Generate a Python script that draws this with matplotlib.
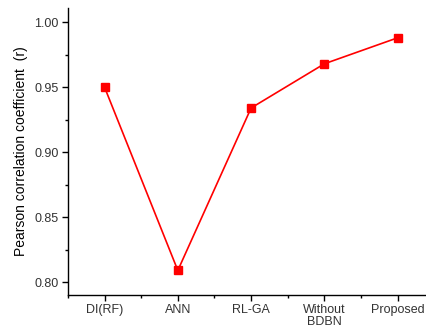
import matplotlib
matplotlib.use("Agg")
import matplotlib.pyplot as plt
from matplotlib.ticker import MultipleLocator

methods = ["DI(RF)", "ANN", "RL-GA", "Without\nBDBN", "Proposed"]
pearson_r = [0.950, 0.809, 0.934, 0.968, 0.988]

plt.rcParams["font.family"] = ["Liberation Sans", "DejaVu Sans"]

fig = plt.figure(figsize=(4.27, 3.29), dpi=100)
ax = fig.add_axes([0.159, 0.103, 0.841, 0.873])

x = list(range(len(methods)))
ax.plot(x, pearson_r, color="#ff0000", lw=1.2, marker="s", ms=5.5,
        markeredgecolor="#ff0000", markerfacecolor="#ff0000")

ax.set_xlim(-0.5, 4.4)
ax.set_ylim(0.79, 1.011)
ax.set_xticks(x)
ax.set_xticklabels(methods, linespacing=1.0)
ax.xaxis.set_minor_locator(MultipleLocator(0.5))
ax.yaxis.set_major_locator(MultipleLocator(0.05))
ax.yaxis.set_minor_locator(MultipleLocator(0.025))
ax.yaxis.set_major_formatter(matplotlib.ticker.FormatStrFormatter("%.2f"))

for s in ["top", "right"]:
    ax.spines[s].set_visible(False)
for s in ["left", "bottom"]:
    ax.spines[s].set_linewidth(1.0)

ax.tick_params(which="major", direction="out", length=4, width=1.0,
               labelsize=9, labelcolor="#333333", pad=2.5)
ax.tick_params(which="minor", direction="out", length=2.5, width=1.0)

ax.set_ylabel("Pearson correlation coefficient  (r)", fontsize=10, labelpad=5)

fig.savefig("out.png", dpi=100)
